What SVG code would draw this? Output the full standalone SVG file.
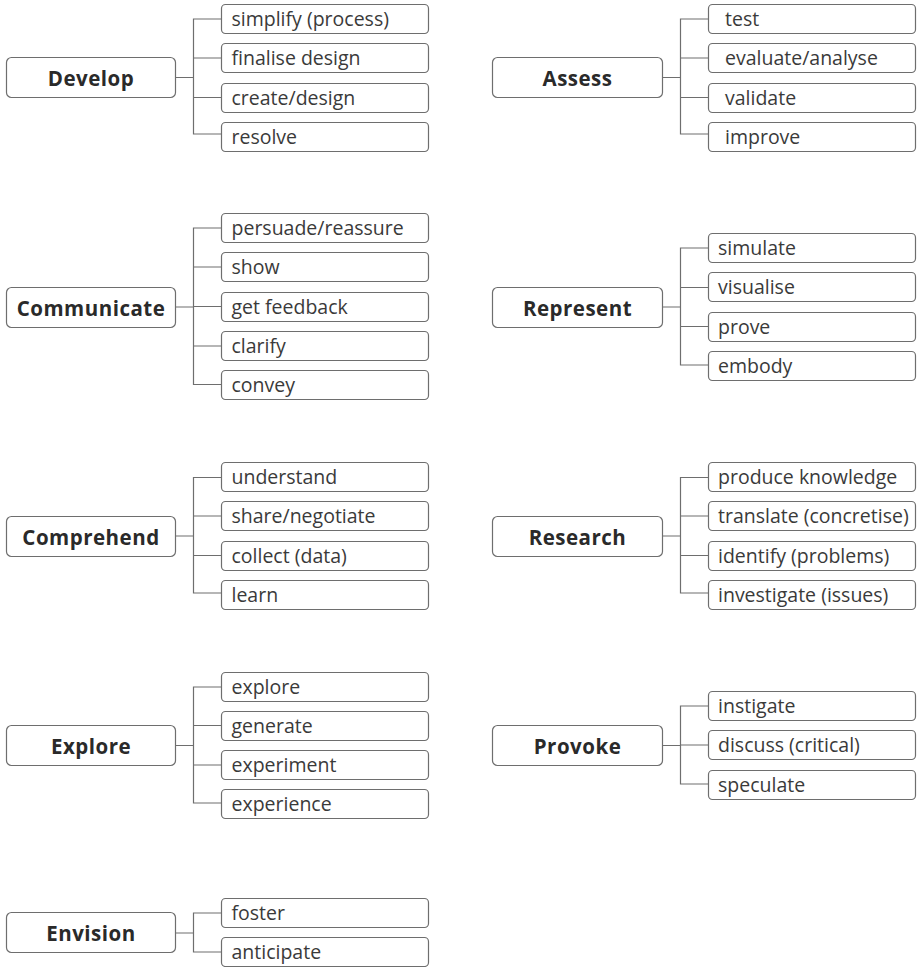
<svg xmlns="http://www.w3.org/2000/svg" width="918" height="967" viewBox="0 0 918 967">
<style>
.bg{fill:#ffffff}
.main rect{fill:#ffffff;stroke:#6e6e6e;stroke-width:1.2}
.main text{font-family:"Open Sans","Noto Sans","Liberation Sans",sans-serif;font-weight:700;font-size:20.5px;letter-spacing:0.5px;fill:#2a2a2a;text-anchor:middle}
.leaf rect{fill:#ffffff;stroke:#6e6e6e;stroke-width:1.2}
.leaf text{font-family:"Open Sans","Noto Sans","Liberation Sans",sans-serif;font-size:19.5px;fill:#3a3a3a}
#connectors path{fill:none;stroke:#6e6e6e;stroke-width:1.2}
</style>
<rect class="bg" x="0" y="0" width="918" height="967"/>
<g id="connectors">
<path d="M175.5 77.5H193.5M221.5 19H193.5V134H221.5M193.5 58H221.5M193.5 97.5H221.5"/>
<path d="M662.5 77.5H680.5M708.5 19H680.5V134H708.5M680.5 58H708.5M680.5 97.5H708.5"/>
<path d="M175.5 307H193.5M221.5 228H193.5V384.5H221.5M193.5 267H221.5M193.5 306.5H221.5M193.5 346H221.5"/>
<path d="M662.5 307H680.5M708.5 248H680.5V365H708.5M680.5 287.5H708.5M680.5 326.5H708.5"/>
<path d="M175.5 536H193.5M221.5 477.5H193.5V593H221.5M193.5 516H221.5M193.5 555.5H221.5"/>
<path d="M662.5 536H680.5M708.5 477.5H680.5V593H708.5M680.5 516H708.5M680.5 555.5H708.5"/>
<path d="M175.5 745.5H193.5M221.5 687H193.5V803H221.5M193.5 725.5H221.5M193.5 765H221.5"/>
<path d="M662.5 745.5H680.5M708.5 706H680.5V784H708.5M680.5 745H708.5"/>
<path d="M175.5 933H193.5M221.5 913H193.5V952H221.5"/>
</g>

<g id="develop" class="main"><rect x="6.5" y="57.5" width="169" height="40" rx="5"/><text x="91" y="86">Develop</text></g>
<g id="develop-1" class="leaf"><rect x="221.5" y="4.5" width="207" height="29" rx="4"/><text x="231.5" y="26">simplify (process)</text></g>
<g id="develop-2" class="leaf"><rect x="221.5" y="43.5" width="207" height="29" rx="4"/><text x="231.5" y="65">finalise design</text></g>
<g id="develop-3" class="leaf"><rect x="221.5" y="83.5" width="207" height="29" rx="4"/><text x="231.5" y="105">create/design</text></g>
<g id="develop-4" class="leaf"><rect x="221.5" y="122.5" width="207" height="29" rx="4"/><text x="231.5" y="144">resolve</text></g>

<g id="assess" class="main"><rect x="492.5" y="57.5" width="170" height="40" rx="5"/><text x="577.5" y="86">Assess</text></g>
<g id="assess-1" class="leaf"><rect x="708.5" y="4.5" width="207" height="29" rx="4"/><text x="725" y="26">test</text></g>
<g id="assess-2" class="leaf"><rect x="708.5" y="43.5" width="207" height="29" rx="4"/><text x="725" y="65">evaluate/analyse</text></g>
<g id="assess-3" class="leaf"><rect x="708.5" y="83.5" width="207" height="29" rx="4"/><text x="725" y="105">validate</text></g>
<g id="assess-4" class="leaf"><rect x="708.5" y="122.5" width="207" height="29" rx="4"/><text x="725" y="144">improve</text></g>

<g id="communicate" class="main"><rect x="6.5" y="287.5" width="169" height="40" rx="5"/><text x="91" y="316">Communicate</text></g>
<g id="communicate-1" class="leaf"><rect x="221.5" y="213.5" width="207" height="29" rx="4"/><text x="231.5" y="235">persuade/reassure</text></g>
<g id="communicate-2" class="leaf"><rect x="221.5" y="252.5" width="207" height="29" rx="4"/><text x="231.5" y="274">show</text></g>
<g id="communicate-3" class="leaf"><rect x="221.5" y="292.5" width="207" height="29" rx="4"/><text x="231.5" y="314">get feedback</text></g>
<g id="communicate-4" class="leaf"><rect x="221.5" y="331.5" width="207" height="29" rx="4"/><text x="231.5" y="353">clarify</text></g>
<g id="communicate-5" class="leaf"><rect x="221.5" y="370.5" width="207" height="29" rx="4"/><text x="231.5" y="392">convey</text></g>

<g id="represent" class="main"><rect x="492.5" y="287.5" width="170" height="40" rx="5"/><text x="577.5" y="316">Represent</text></g>
<g id="represent-1" class="leaf"><rect x="708.5" y="233.5" width="207" height="29" rx="4"/><text x="718" y="255">simulate</text></g>
<g id="represent-2" class="leaf"><rect x="708.5" y="272.5" width="207" height="29" rx="4"/><text x="718" y="294">visualise</text></g>
<g id="represent-3" class="leaf"><rect x="708.5" y="312.5" width="207" height="29" rx="4"/><text x="718" y="334">prove</text></g>
<g id="represent-4" class="leaf"><rect x="708.5" y="351.5" width="207" height="29" rx="4"/><text x="718" y="373">embody</text></g>

<g id="comprehend" class="main"><rect x="6.5" y="516.5" width="169" height="40" rx="5"/><text x="91" y="545">Comprehend</text></g>
<g id="comprehend-1" class="leaf"><rect x="221.5" y="462.5" width="207" height="29" rx="4"/><text x="231.5" y="484">understand</text></g>
<g id="comprehend-2" class="leaf"><rect x="221.5" y="501.5" width="207" height="29" rx="4"/><text x="231.5" y="523">share/negotiate</text></g>
<g id="comprehend-3" class="leaf"><rect x="221.5" y="541.5" width="207" height="29" rx="4"/><text x="231.5" y="563">collect (data)</text></g>
<g id="comprehend-4" class="leaf"><rect x="221.5" y="580.5" width="207" height="29" rx="4"/><text x="231.5" y="602">learn</text></g>

<g id="research" class="main"><rect x="492.5" y="516.5" width="170" height="40" rx="5"/><text x="577.5" y="545">Research</text></g>
<g id="research-1" class="leaf"><rect x="708.5" y="462.5" width="207" height="29" rx="4"/><text x="718" y="484">produce knowledge</text></g>
<g id="research-2" class="leaf"><rect x="708.5" y="501.5" width="207" height="29" rx="4"/><text x="718" y="523">translate (concretise)</text></g>
<g id="research-3" class="leaf"><rect x="708.5" y="541.5" width="207" height="29" rx="4"/><text x="718" y="563">identify (problems)</text></g>
<g id="research-4" class="leaf"><rect x="708.5" y="580.5" width="207" height="29" rx="4"/><text x="718" y="602">investigate (issues)</text></g>

<g id="explore" class="main"><rect x="6.5" y="725.5" width="169" height="40" rx="5"/><text x="91" y="754">Explore</text></g>
<g id="explore-1" class="leaf"><rect x="221.5" y="672.5" width="207" height="29" rx="4"/><text x="231.5" y="694">explore</text></g>
<g id="explore-2" class="leaf"><rect x="221.5" y="711.5" width="207" height="29" rx="4"/><text x="231.5" y="733">generate</text></g>
<g id="explore-3" class="leaf"><rect x="221.5" y="750.5" width="207" height="29" rx="4"/><text x="231.5" y="772">experiment</text></g>
<g id="explore-4" class="leaf"><rect x="221.5" y="789.5" width="207" height="29" rx="4"/><text x="231.5" y="811">experience</text></g>

<g id="provoke" class="main"><rect x="492.5" y="725.5" width="170" height="40" rx="5"/><text x="577.5" y="754">Provoke</text></g>
<g id="provoke-1" class="leaf"><rect x="708.5" y="691.5" width="207" height="29" rx="4"/><text x="718" y="713">instigate</text></g>
<g id="provoke-2" class="leaf"><rect x="708.5" y="730.5" width="207" height="29" rx="4"/><text x="718" y="752">discuss (critical)</text></g>
<g id="provoke-3" class="leaf"><rect x="708.5" y="770.5" width="207" height="29" rx="4"/><text x="718" y="792">speculate</text></g>

<g id="envision" class="main"><rect x="6.5" y="912.5" width="169" height="40" rx="5"/><text x="91" y="941">Envision</text></g>
<g id="envision-1" class="leaf"><rect x="221.5" y="898.5" width="207" height="29" rx="4"/><text x="231.5" y="920">foster</text></g>
<g id="envision-2" class="leaf"><rect x="221.5" y="937.5" width="207" height="29" rx="4"/><text x="231.5" y="959">anticipate</text></g>
</svg>
